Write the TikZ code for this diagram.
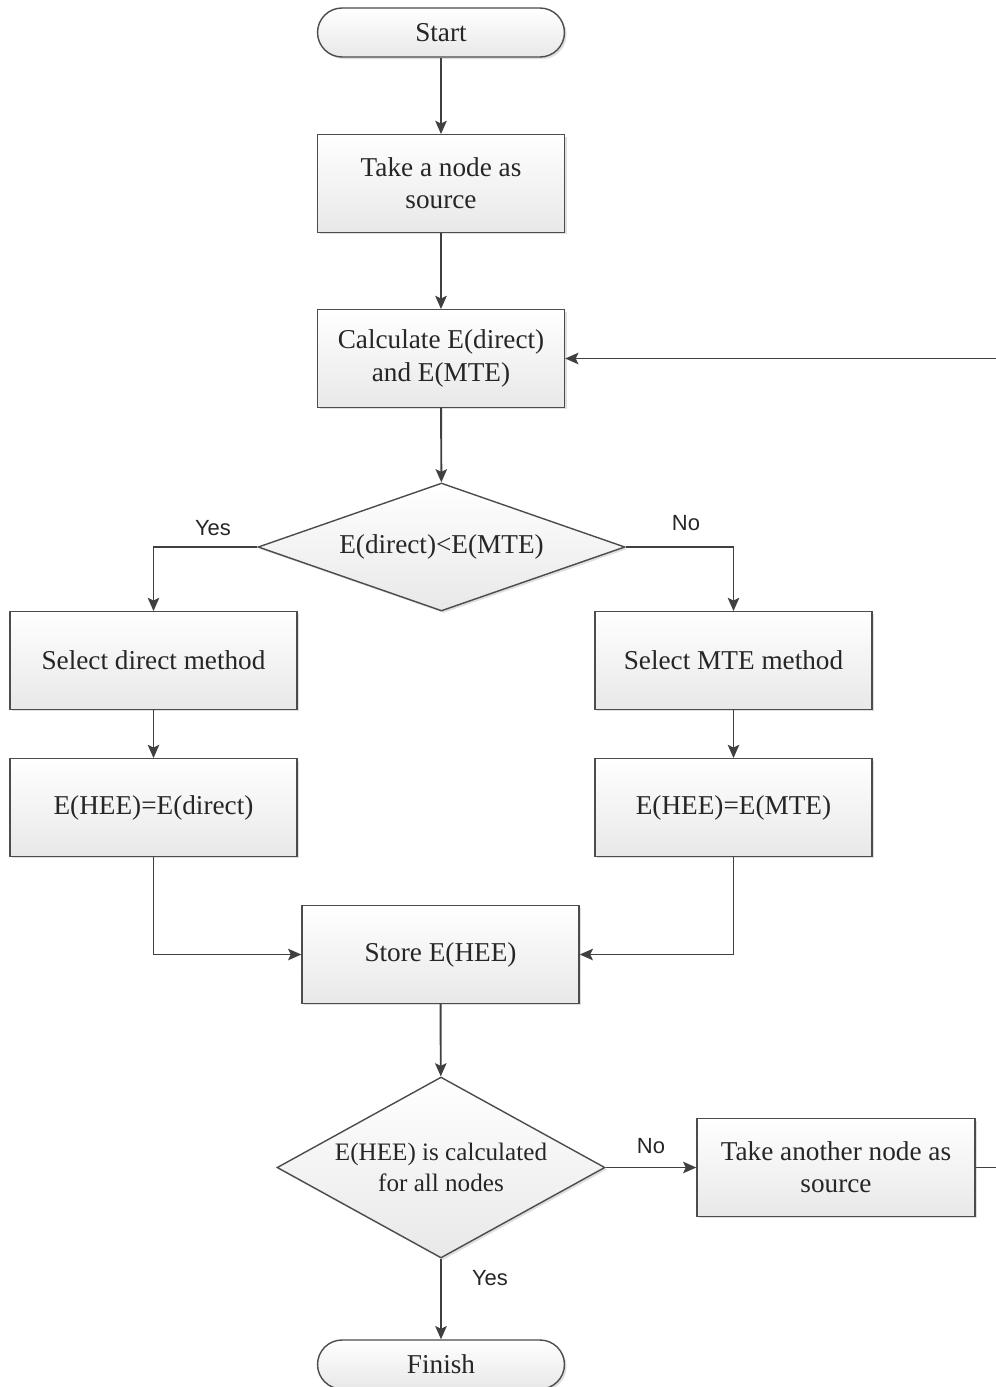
\documentclass[tikz,border=0pt]{standalone}
\usepackage{fontspec}
\setmainfont{Liberation Serif}
\newfontfamily\labelfont{Liberation Sans}
\usetikzlibrary{shapes.geometric,arrows.meta,shadows}

\tikzset{
  base/.style={draw=black!70, line width=0.8pt, top color=white, bottom color=black!9,
    drop shadow={shadow xshift=1.2pt, shadow yshift=-1.2pt, opacity=0.25},
    font=\fontsize{15.5}{18.3}\selectfont, text=black!85, align=center, inner sep=0pt},
  procbox/.style={base, rectangle, minimum height=1.95cm},
  termbox/.style={base, rectangle, rounded corners=0.49cm, minimum width=4.94cm, minimum height=0.98cm},
  decision/.style={base, diamond},
  arr/.style={draw=black!75, line width=1.1pt, -{Stealth[length=7.5pt,width=6.5pt,inset=1.5pt]}},
  lbl/.style={font=\labelfont\fontsize{12.5}{14}\selectfont, text=black!85, inner sep=0pt},
}

\begin{document}
\begin{tikzpicture}[x=0.02cm, y=-0.02cm]
\useasboundingbox (0,0) rectangle (995,1387);

% main column
\node[termbox] (start) at (441,32.5) {Start};
\node[procbox, minimum width=4.94cm] (src) at (441,183.5) {Take a node as\\source};
\node[procbox, minimum width=4.94cm] (calc) at (441,358.5) {Calculate E(direct)\\and E(MTE)};
\node[decision, aspect=2.87, minimum width=7.34cm, minimum height=2.56cm] (dec1) at (441.5,547) {E(direct)<E(MTE)};

% two branches
\node[procbox, minimum width=5.74cm] (seldir) at (153.5,660.5) {Select direct method};
\node[procbox, minimum width=5.54cm] (selmte) at (733.5,660.5) {Select MTE method};
\node[procbox, minimum width=5.74cm] (hdir) at (153.5,807.5) {E(HEE)=E(direct)};
\node[procbox, minimum width=5.54cm] (hmte) at (733.5,807.5) {E(HEE)=E(MTE)};

% merge and loop test
\node[procbox, minimum width=5.54cm] (store) at (440.5,954.5) {Store E(HEE)};
\node[decision, aspect=1.81, minimum width=6.56cm, minimum height=3.62cm,
      font=\fontsize{14.3}{17.6}\selectfont] (dec2) at (441,1167.5) {E(HEE) is calculated\\for all nodes};
\node[procbox, minimum width=5.56cm] (another) at (836,1167.5) {Take another node as\\source};
\node[termbox] (finish) at (441,1364.5) {Finish};

\coordinate (back) at (1000,1167.5);

% connectors
\draw[arr] (start) -- (src);
\draw[arr] (src) -- (calc);
\draw[arr] (calc) -- (dec1);
\draw[arr] (dec1.west) -| (seldir.north);
\draw[arr] (dec1.east) -| (selmte.north);
\draw[arr] (seldir) -- (hdir);
\draw[arr] (selmte) -- (hmte);
\draw[arr] (hdir.south) |- (store.west);
\draw[arr] (hmte.south) |- (store.east);
\draw[arr] (store) -- (dec2);
\draw[arr] (dec2.east) -- (another.west);
\draw[arr] (dec2.south) -- (finish.north);
\draw[arr] (another.east) -- (back) |- (calc.east);

% branch labels
\node[lbl] (yes1) at (213,528) {Yes};
\node[lbl] (no1) at (686,523) {No};
\node[lbl] (no2) at (651,1146) {No};
\node[lbl] (yes2) at (490,1278) {Yes};
\end{tikzpicture}
\end{document}
